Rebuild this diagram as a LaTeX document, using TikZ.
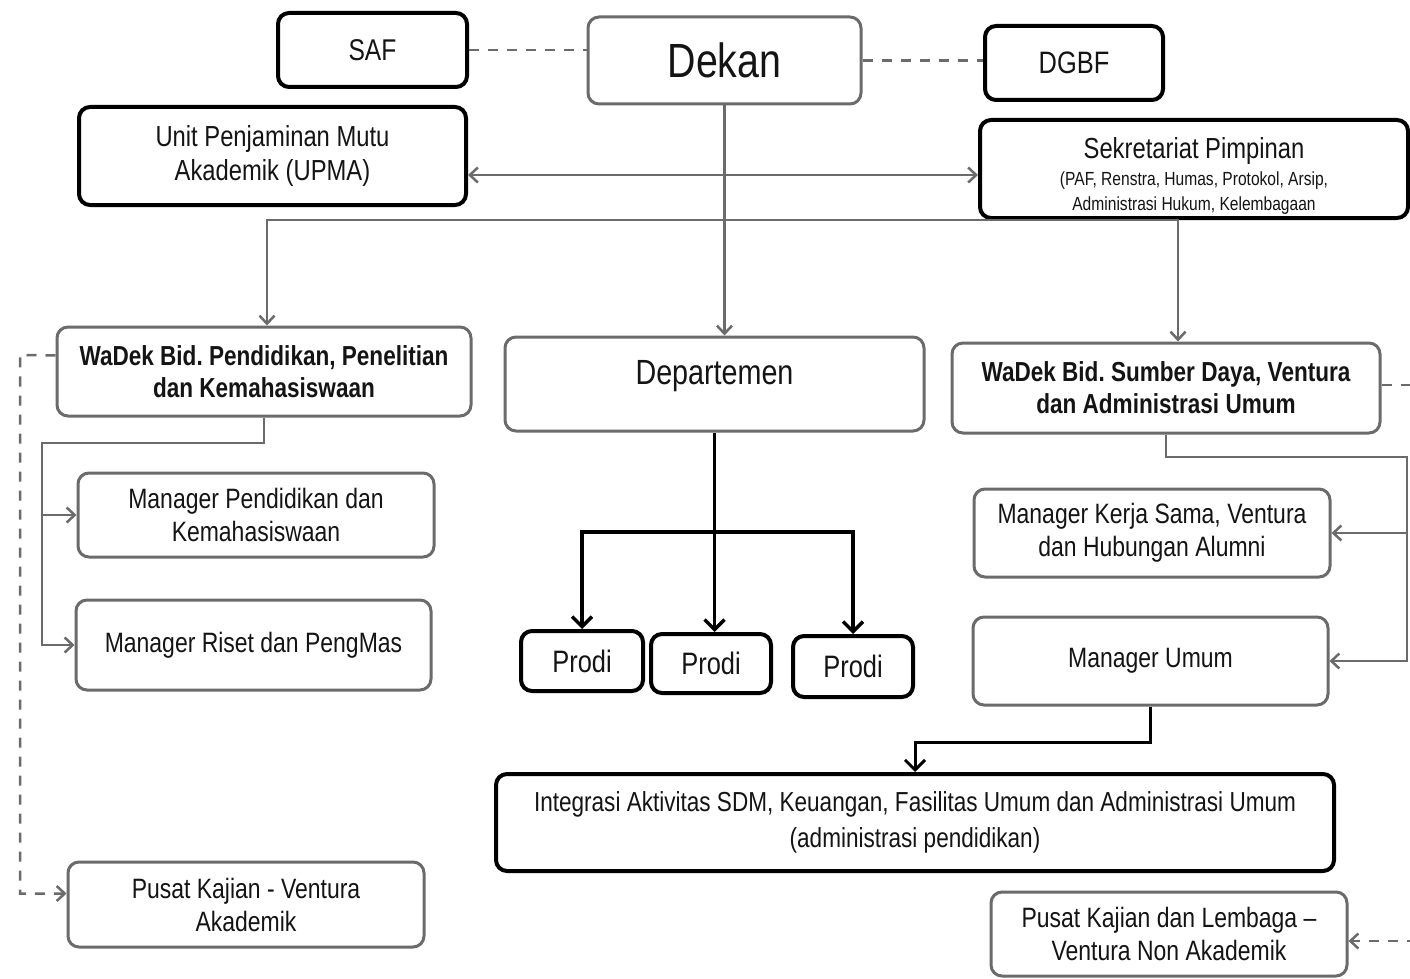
\documentclass[tikz,border=0pt]{standalone}
\usepackage{fontspec}
\setmainfont{Liberation Sans}[FakeStretch=0.82]
\usetikzlibrary{arrows.meta}
\definecolor{gline}{gray}{0.42}
\definecolor{ink}{gray}{0.08}
\newcommand\myfs[2]{\fontsize{#1}{#2}\selectfont\frenchspacing}
\begin{document}
\begin{tikzpicture}[x=1pt,y=-1pt,
  box/.style={rectangle, rounded corners=11pt, align=center, text=ink, inner sep=2pt},
  bbox/.style={box, draw=black, line width=4pt},
  gbox/.style={box, draw=gline, line width=3pt},
  gconn/.style={draw=gline, line width=2.5pt, line join=miter},
  bconn/.style={draw=black, line width=3.5pt},
  gtip/.style={-{Straight Barb[length=8pt,width=15pt]}},
  gtips/.style={{Straight Barb[length=8pt,width=15pt]}-{Straight Barb[length=8pt,width=15pt]}},
  btip/.style={-{Straight Barb[length=10pt,width=20pt]}},
  dashline/.style={draw=gline, line width=2.5pt, dash pattern=on 10pt off 9pt}
]
\useasboundingbox (0,0) rectangle (1410,979);
\fill[white] (0,0) rectangle (1410,979);

% top row
\node[bbox, minimum width=189pt, minimum height=74pt, font=\myfs{30}{34}] (saf) at (372.5,50) {SAF};
\node[gbox, minimum width=273pt, minimum height=87pt, font=\myfs{48}{52}] (dekan) at (724.5,60.5) {Dekan};
\node[bbox, minimum width=178pt, minimum height=74pt, font=\myfs{31}{34}] (dgbf) at (1074,63) {DGBF};

\node[bbox, minimum width=387pt, minimum height=98pt, font=\myfs{29}{34}] (upma) at (272.5,156)
  {Unit Penjaminan Mutu\\Akademik (UPMA)};
\node[bbox, minimum width=428pt, minimum height=98pt, font=\myfs{19}{25}] (sek) at (1194,169)
  {\myfs{29}{30}\rule{0pt}{35pt}Sekretariat Pimpinan\\[2pt](PAF, Renstra, Humas, Protokol, Arsip,\\Administrasi Hukum, Kelembagaan};

% second row
\node[gbox, minimum width=414pt, minimum height=89pt, font=\myfs{27.5}{32}\bfseries] (wadeka) at (264,371.5)
  {WaDek Bid. Pendidikan, Penelitian\\dan Kemahasiswaan};
\node[gbox, minimum width=419pt, minimum height=94pt, text depth=24pt, font=\myfs{35}{40}] (dept) at (714.5,384)
  {Departemen};
\node[gbox, minimum width=428pt, minimum height=90pt, font=\myfs{27.5}{32}\bfseries] (wadekb) at (1166,388)
  {WaDek Bid. Sumber Daya, Ventura\\dan Administrasi Umum};

% managers
\node[gbox, minimum width=356pt, minimum height=84pt, font=\myfs{28}{33}] (mp) at (256,515)
  {Manager Pendidikan dan\\Kemahasiswaan};
\node[gbox, minimum width=355pt, minimum height=90pt, font=\myfs{28}{33}] (mr) at (253.5,645)
  {Manager Riset dan PengMas};
\node[gbox, minimum width=356pt, minimum height=88pt, font=\myfs{28}{33}] (mk) at (1152,533)
  {Manager Kerja Sama, Ventura\\dan Hubungan Alumni};
\node[gbox, minimum width=355pt, minimum height=88pt, font=\myfs{28}{33}] (mu) at (1150.5,661)
  {Manager Umum};

% prodi
\node[bbox, minimum width=122pt, minimum height=60pt, font=\myfs{31}{34}] (p1) at (582,661) {Prodi};
\node[bbox, minimum width=120pt, minimum height=59pt, font=\myfs{31}{34}] (p2) at (711,663.5) {Prodi};
\node[bbox, minimum width=120pt, minimum height=61pt, font=\myfs{31}{34}] (p3) at (853,666.5) {Prodi};

% bottom
\node[bbox, minimum width=838pt, minimum height=97pt, font=\myfs{27.5}{36}] (int) at (915,822.5)
  {Integrasi Aktivitas SDM, Keuangan, Fasilitas Umum dan Administrasi Umum\\(administrasi pendidikan)};
\node[gbox, minimum width=356pt, minimum height=85pt, font=\myfs{28}{33}] (pkv) at (246,904.5)
  {Pusat Kajian - Ventura\\Akademik};
\node[gbox, minimum width=356pt, minimum height=84pt, font=\myfs{28}{33}] (pkl) at (1169,934)
  {Pusat Kajian dan Lembaga \textendash\\Ventura Non Akademik};

% coordinates
\coordinate (j1) at (724,220);
\coordinate (lb) at (42,443);
\coordinate (rb) at (1407,457);
\coordinate (db) at (714,532);
\coordinate (mb) at (1148,742);
\coordinate (ld) at (20,355);
\coordinate (rd) at (1425,385);

% dashed links at top
\draw[dashline] (saf.east) -- (saf.east -| dekan.west);
\draw[dashline] (dekan.east) -- (dekan.east -| dgbf.west);

% Dekan down
\draw[gconn, gtip] (dekan.south) -- (dekan.south |- dept.north);
\draw[gconn, gtips] ([yshift=-19pt]upma.east) -- ([yshift=-19pt]upma.east -| sek.west);
\draw[gconn, gtip] (j1) -| ([xshift=3pt]wadeka.north);
\draw[gconn, gtip] (j1) -| ([xshift=12pt]wadekb.north);

% WaDek 1 branch
\draw[gconn, gtip] (wadeka.south) |- (lb) |- (mr.west);
\draw[gconn, gtip] (lb) |- (mp.west);
% WaDek 2 branch
\draw[gconn, gtip] (wadekb.south) |- (rb) |- (mu.east);
\draw[gconn, gtip] (rb) |- (mk.east);

% Departemen to prodi
\draw[bconn, btip] (dept.south) -- (dept.south |- p2.north);
\draw[bconn, btip] (db) -| (p1.north);
\draw[bconn, btip] (db) -| (p3.north);

% Manager Umum to Integrasi
\draw[bconn, line width=3pt, btip] (mu.south) |- (mb) -| (int.north);

% dashed side links
\draw[dashline, gtip] ([yshift=16pt]wadeka.west) -- (ld) |- ([yshift=11pt]pkv.west);
\draw[dashline, gtip] ([yshift=3pt]wadekb.east) -- (rd) |- ([yshift=-7pt]pkl.east);
\end{tikzpicture}
\end{document}
